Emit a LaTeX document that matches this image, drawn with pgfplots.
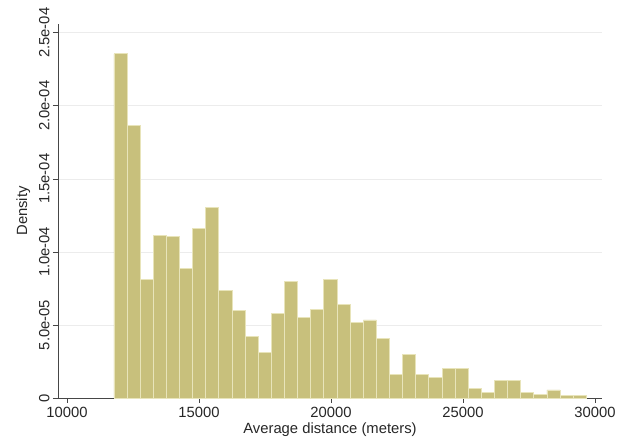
\documentclass[border=0pt]{standalone}
\usepackage{pgfplots}
\pgfplotsset{compat=1.18}
\usepackage{fontspec}
\setmainfont{Liberation Sans}
\definecolor{barfill}{RGB}{200,192,124}
\definecolor{baredge}{RGB}{232,228,186}
\definecolor{axgray}{RGB}{70,70,70}
\definecolor{gridgray}{RGB}{236,236,236}
\begin{document}
\begin{tikzpicture}
\useasboundingbox (-58pt,-45pt) rectangle (561pt,398pt);
\begin{axis}[
  scale only axis,
  width=544pt, height=374pt,
  xmin=9660, xmax=30265,
  ymin=0, ymax=0.000256,
  axis lines*=left,
  axis line style={axgray, line width=0.8pt},
  xtick={10000,15000,20000,25000,30000},
  xticklabels={10000,15000,20000,25000,30000},
  ytick={0,0.00005,0.0001,0.00015,0.0002,0.00025},
  yticklabels={0,5.0e-05,1.0e-04,1.5e-04,2.0e-04,2.5e-04},
  yticklabel style={rotate=90, anchor=south},
  xticklabel style={anchor=north, yshift=-1pt},
  tick align=outside,
  major tick length=5pt,
  tick style={axgray, line width=0.7pt},
  ymajorgrids,
  grid style={gridgray, line width=0.7pt},
  ticklabel style={font=\fontsize{14.8}{17}\selectfont, text=black!85},
  label style={font=\fontsize{14.8}{17}\selectfont, text=black!85},
  xlabel={Average distance (meters)},
  ylabel={Density},
  xlabel style={yshift=2pt},
  ylabel style={yshift=2pt},
  scaled x ticks=false,
  scaled y ticks=false,
  clip=false,
]
\addplot[ybar interval, fill=barfill, draw=baredge, line width=0.9pt] table[x=x, y=y] {
x y
11780 0.0002356
12277 0.0001865
12774 0.0000813
13271 0.0001114
13768 0.0001107
14265 0.0000886
14762 0.0001158
15259 0.0001306
15756 0.0000737
16253 0.0000600
16750 0.0000422
17247 0.0000313
17744 0.0000580
18241 0.0000800
18738 0.0000553
19235 0.0000607
19732 0.0000810
20229 0.0000637
20726 0.0000518
21223 0.0000534
21720 0.0000406
22217 0.0000164
22714 0.0000300
23211 0.0000164
23708 0.0000139
24205 0.0000203
24702 0.0000203
25199 0.0000064
25696 0.0000039
26193 0.0000123
26690 0.0000123
27187 0.0000036
27684 0.0000027
28181 0.0000055
28678 0.0000018
29175 0.0000018
29672 0.0000018
};
\end{axis}
\end{tikzpicture}
\end{document}
